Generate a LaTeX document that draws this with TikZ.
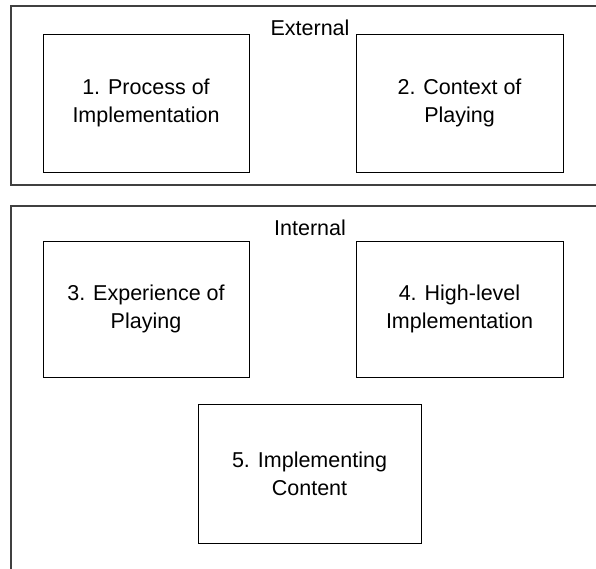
\documentclass[tikz,border=0pt]{standalone}
\usepackage{fontspec}
\setmainfont{Liberation Sans}
\begin{document}
\begin{tikzpicture}[x=1pt,y=-1pt,
  group/.style={draw=black!75,line width=1.3pt},
  item/.style={draw=black,line width=1pt},
  txt/.style={align=center,font=\fontsize{21.5}{28}\selectfont,inner sep=0pt},
  lbl/.style={font=\fontsize{21.5}{28}\selectfont,inner sep=0pt,anchor=base}]
\useasboundingbox (0,0) rectangle (596,568);
\clip (0,0) rectangle (596,568);
% External group
\draw[group] (11,6) rectangle (620,185);
\node[lbl] (ext) at (310,35) {External};
\draw[item] (43,34) rectangle (249,172);
\node[txt] (b1) at (146,103) {1. Process of\\Implementation};
\draw[item] (356,34) rectangle (563,172);
\node[txt] (b2) at (459.5,103) {2. Context of\\Playing};
% Internal group
\draw[group] (11,206) rectangle (620,600);
\node[lbl] (int) at (310,235) {Internal};
\draw[item] (43,241) rectangle (249,377);
\node[txt] (b3) at (146,309) {3. Experience of\\Playing};
\draw[item] (356,241) rectangle (563,377);
\node[txt] (b4) at (459.5,309) {4. High-level\\Implementation};
\draw[item] (198,404) rectangle (421,543);
\node[txt] (b5) at (309.5,473.5) {5. Implementing\\Content};
\end{tikzpicture}
\end{document}
